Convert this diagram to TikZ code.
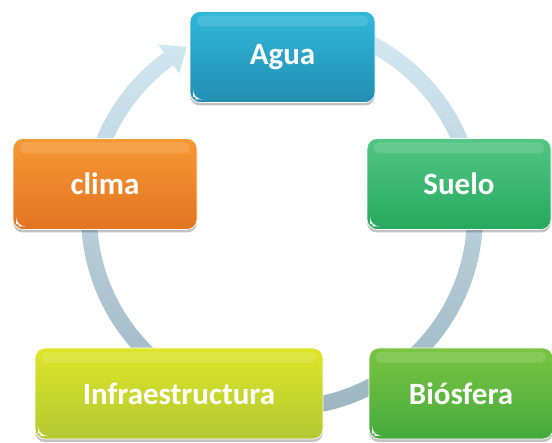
\documentclass[tikz,border=0pt]{standalone}
\usepackage{fontspec}
\setmainfont{Carlito}
\usetikzlibrary{shadows,calc}
\definecolor{aguaT}{RGB}{48,184,218}
\definecolor{aguaB}{RGB}{34,142,178}
\definecolor{climaT}{RGB}{246,152,52}
\definecolor{climaB}{RGB}{226,116,34}
\definecolor{sueloT}{RGB}{82,198,132}
\definecolor{sueloB}{RGB}{38,168,94}
\definecolor{infraT}{RGB}{222,230,40}
\definecolor{infraB}{RGB}{178,200,52}
\definecolor{biosT}{RGB}{122,196,66}
\definecolor{biosB}{RGB}{68,170,60}
\definecolor{ringT}{RGB}{214,236,245}
\definecolor{ringB}{RGB}{156,180,192}
\tikzset{
  cbox/.style 2 args={rounded corners=10pt, minimum height=91pt,
    top color=#1, bottom color=#2, draw=white, line width=0.7pt,
    text=white, font=\fontsize{31}{31}\selectfont\bfseries,
    drop shadow={shadow xshift=0pt, shadow yshift=-3pt, opacity=0.35, fill=black!70},
    path picture={
      \fill[white, opacity=0.13, rounded corners=5pt]
        ([xshift=7pt,yshift=-4pt]path picture bounding box.north west) rectangle
        ([xshift=-7pt,yshift=-15pt]path picture bounding box.north east);
      \fill[white, opacity=0.95]
        ([xshift=3pt,yshift=3pt]path picture bounding box.south west) -- ++(9pt,0)
        to[bend left=25] ++(-9pt,9pt) -- cycle;
    }},
  ringfill/.style={top color=ringT, bottom color=ringB, draw=none}
}
\begin{document}
\begin{tikzpicture}[x=1pt,y=1pt]
\useasboundingbox (0,0) rectangle (552,443);
% cycle arrow
\coordinate (c) at (282,228);
\begin{scope}[shift={(c)}]
\path[ringfill] (95:201) arc[start angle=95, end angle=-234, radius=201]
  -- (-234:211) -- (-240.5:193) -- (-234:175) -- (-234:185)
  arc[start angle=-234, end angle=95, radius=185] -- cycle;
\end{scope}
% boxes
\node[cbox={aguaT}{aguaB}, minimum width=185pt] (agua) at (282.5,386) {Agua};
\node[cbox={climaT}{climaB}, minimum width=184pt] (clima) at (105,259) {clima};
\node[cbox={sueloT}{sueloB}, minimum width=184pt] (suelo) at (459,259) {Suelo};
\node[cbox={infraT}{infraB}, minimum width=288pt] (infra) at (179,49.5) {Infraestructura};
\node[cbox={biosT}{biosB}, minimum width=184pt] (bios) at (461,49.5) {Biósfera};
\end{tikzpicture}
\end{document}
